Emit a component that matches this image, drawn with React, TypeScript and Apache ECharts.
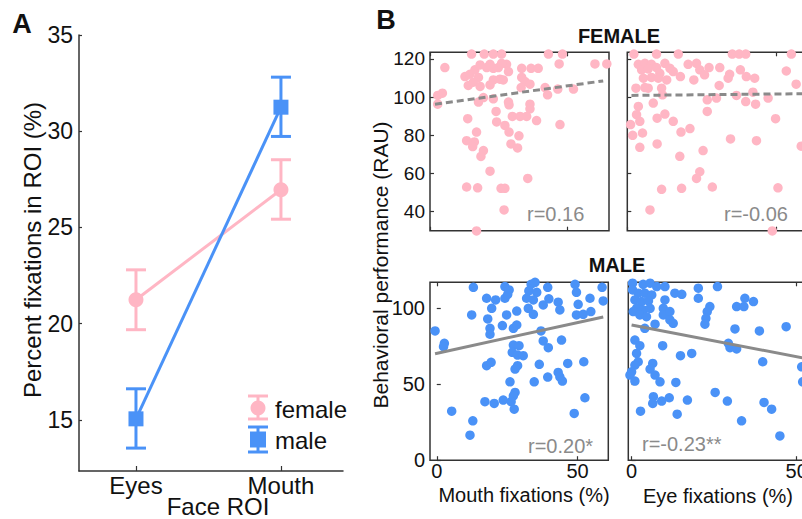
import React, { useEffect, useRef } from "react";
import * as echarts from "echarts";

const PINK = "#FFB6C4";
const BLUE = "#4A92F7";
const GRAY = "#8A8A8A";
const AXIS = "#333333";
const TEXT = "#111111";
const FONT = "'Liberation Sans', Arial, Helvetica, sans-serif";

// ---------- Panel A ----------
const roiCategories = ["Eyes", "Mouth"];
const roiPositions = [1, 2];
const femaleMean = [21.25, 26.96];
const femaleLow = [19.69, 25.43];
const femaleHigh = [22.8, 28.52];
const maleMean = [15.06, 31.25];
const maleLow = [13.54, 29.73];
const maleHigh = [16.62, 32.81];
const panelATicks = [15, 20, 25, 30, 35];

// ---------- Panel B ----------
const femaleTicksY = [40, 60, 80, 100, 120];
const maleTicksY = [0, 50, 100];
const fixTicksX = [0, 50];

const femaleMouth = [
  [15.1, 122.6], [19.7, 122.6], [23.0, 122.6], [26.0, 122.6], [43.0, 122.6], [48.1, 122.6],
  [46.9, 117.4], [59.9, 117.4], [64.2, 117.4], [5.4, 115.5], [12.7, 110.8], [14.5, 112.0],
  [16.3, 114.3], [18.2, 116.9], [20.6, 115.5], [23.0, 115.1], [24.8, 115.5], [27.8, 117.2],
  [28.5, 113.4], [25.4, 109.4], [23.0, 109.0], [17.6, 110.3], [15.7, 107.8], [13.9, 106.1],
  [18.2, 105.6], [21.8, 106.4], [26.6, 109.0], [33.3, 115.1], [36.7, 115.1], [39.3, 115.1],
  [33.3, 110.3], [34.5, 108.2], [36.3, 106.8], [33.1, 105.0], [41.8, 105.0], [42.7, 101.2],
  [46.4, 104.2], [52.1, 104.2], [2.8, 100.9], [4.5, 102.1], [2.8, 96.3], [17.6, 97.4],
  [19.4, 99.8], [23.0, 99.1], [28.5, 97.4], [28.7, 96.0], [36.3, 96.3], [36.3, 93.9],
  [24.0, 92.5], [13.7, 88.7], [24.2, 87.0], [27.2, 85.2], [29.9, 89.9], [32.7, 89.9],
  [35.1, 89.9], [38.7, 87.7], [47.2, 85.6], [28.7, 81.7], [32.3, 79.7], [29.4, 75.5],
  [31.8, 73.4], [16.9, 81.7], [13.3, 77.2], [16.1, 76.5], [15.5, 74.1], [19.4, 72.0],
  [18.5, 68.9], [21.8, 61.2], [13.3, 52.9], [17.3, 52.5], [25.8, 52.2], [27.2, 52.2],
  [35.5, 57.4], [26.9, 40.9], [16.9, 29.9], [26.0, 117.7], [21.8, 117.2]
];

const femaleEye = [
  [2.2, 122.6], [9.8, 122.6], [17.1, 122.6], [35.2, 122.6], [37.5, 122.6], [39.7, 122.6],
  [55.0, 122.6], [3.7, 117.2], [5.9, 117.7], [8.1, 117.2], [4.8, 114.3], [7.0, 114.8],
  [9.8, 115.5], [12.6, 117.7], [14.3, 115.1], [15.4, 113.4], [10.9, 112.5], [8.1, 110.3],
  [10.4, 109.9], [13.2, 109.0], [7.0, 104.7], [2.9, 104.7], [5.9, 105.0], [11.5, 104.7],
  [11.8, 101.2], [17.8, 110.8], [20.4, 117.2], [23.2, 117.7], [24.3, 114.3], [27.4, 115.5],
  [22.3, 109.0], [25.9, 111.7], [31.0, 115.5], [34.3, 112.0], [33.8, 109.9], [37.9, 114.3],
  [39.9, 110.8], [42.7, 109.9], [53.3, 113.7], [56.6, 106.8], [30.8, 106.1], [42.1, 102.6],
  [36.6, 100.9], [26.8, 98.6], [29.9, 99.5], [39.7, 97.7], [43.0, 96.3], [47.2, 99.5],
  [3.7, 95.1], [8.7, 96.9], [26.8, 92.5], [3.1, 90.8], [4.2, 87.3], [1.1, 85.6],
  [10.0, 89.0], [12.6, 91.1], [15.4, 87.3], [21.0, 83.5], [18.0, 81.7], [1.8, 80.0],
  [5.1, 81.2], [4.2, 73.7], [10.0, 75.5], [49.7, 88.7], [34.6, 78.1], [43.3, 77.2],
  [58.3, 74.3], [25.4, 72.0], [17.6, 69.0], [24.3, 60.9], [23.2, 57.4], [11.5, 51.7],
  [18.2, 52.2], [28.5, 52.9], [50.5, 52.5], [7.6, 40.9], [48.6, 29.9], [5.4, 109.9]
];

const maleMouth = [
  [13.0, 113.8], [24.2, 114.3], [25.7, 112.1], [33.5, 115.8], [34.9, 117.1], [32.7, 111.4],
  [35.5, 110.5], [39.4, 113.8], [49.1, 115.8], [49.6, 110.5], [58.7, 113.8], [17.7, 106.6],
  [20.9, 105.5], [24.2, 106.6], [25.2, 109.2], [19.5, 100.0], [31.9, 106.6], [34.3, 105.5],
  [37.8, 102.2], [39.8, 106.2], [43.1, 104.0], [43.7, 98.9], [50.2, 102.6], [54.4, 106.6],
  [59.1, 104.8], [12.4, 95.6], [24.8, 95.6], [28.4, 98.2], [32.5, 100.0], [34.3, 96.0],
  [49.6, 95.6], [52.0, 96.0], [54.7, 97.8], [18.1, 93.0], [18.9, 86.8], [23.3, 88.6],
  [27.2, 86.8], [28.4, 89.0], [18.9, 82.9], [37.0, 85.1], [-0.6, 85.1], [2.7, 76.9],
  [2.4, 74.7], [37.8, 78.5], [39.6, 74.1], [44.3, 79.1], [27.2, 75.8], [29.2, 75.4],
  [26.8, 71.0], [28.7, 69.2], [30.7, 68.8], [17.7, 62.2], [19.3, 64.4], [28.7, 62.2],
  [27.8, 60.0], [36.4, 63.1], [46.5, 63.7], [52.2, 64.8], [26.0, 51.6], [34.6, 51.6],
  [39.4, 54.7], [43.1, 57.8], [43.7, 54.9], [44.6, 52.1], [27.8, 44.6], [27.2, 42.4],
  [17.1, 38.5], [20.4, 37.4], [23.6, 39.6], [26.4, 38.5], [27.5, 33.6], [52.6, 41.1],
  [5.3, 32.3], [12.8, 25.9], [11.8, 16.5], [48.8, 30.8]
];

const maleEye = [
  [0.3, 116.5], [0.3, 112.1], [3.5, 115.8], [5.6, 116.5], [7.6, 114.3], [10.1, 114.3],
  [2.0, 109.9], [4.0, 109.9], [6.1, 108.8], [1.0, 105.5], [3.0, 104.4], [5.1, 104.8],
  [1.5, 100.0], [3.5, 98.9], [5.6, 100.0], [0.5, 97.8], [2.5, 95.6], [4.5, 94.5],
  [7.1, 89.5], [4.0, 86.8], [10.1, 105.5], [9.6, 100.0], [9.6, 95.6], [11.6, 97.8],
  [13.1, 109.9], [15.2, 109.2], [11.6, 92.3], [12.6, 90.1], [20.2, 113.2], [20.2, 106.6],
  [26.0, 114.3], [23.7, 101.1], [22.9, 97.8], [22.5, 93.4], [22.2, 89.5], [31.8, 101.1],
  [34.3, 106.6], [34.0, 101.1], [36.9, 104.4], [31.3, 86.4], [38.7, 85.1], [46.8, 87.9],
  [29.3, 76.9], [29.8, 74.1], [31.8, 73.2], [9.4, 75.4], [14.8, 68.8], [18.2, 70.3],
  [1.0, 79.1], [2.5, 75.4], [1.5, 70.3], [2.0, 64.8], [1.0, 62.6], [0.0, 58.2],
  [-0.5, 56.0], [1.0, 52.1], [6.4, 63.7], [5.6, 60.0], [7.1, 56.0], [8.6, 51.6],
  [13.4, 51.2], [39.7, 64.8], [51.5, 61.5], [51.8, 51.6], [6.6, 41.8], [6.4, 37.4],
  [9.1, 38.9], [11.4, 41.1], [16.9, 39.6], [25.3, 44.6], [29.0, 38.9], [2.7, 32.3],
  [13.8, 30.3], [40.1, 38.0], [42.4, 33.6], [33.3, 25.9], [44.9, 16.0]
];

const femaleMouthFit = [[1.8, 96.3], [62.9, 108.5]];
const femaleEyeFit = [[1.4, 100.9], [60.0, 101.8]];
const maleMouthFit = [[-0.6, 70.1], [59.1, 94.3]];
const maleEyeFit = [[0.0, 89.0], [53.2, 66.8]];

const rLabels = ["r=0.16", "r=-0.06", "r=0.20*", "r=-0.23**"];

function errorBarSeries(color: string, low: number[], high: number[], z: number) {
  const data = roiPositions.map((p, i) => [p, low[i], high[i]]);
  return {
    type: "custom",
    xAxisIndex: 0,
    yAxisIndex: 0,
    z,
    silent: true,
    encode: { x: 0, y: [1, 2] },
    data,
    renderItem: (_params: any, api: any) => {
      const x = api.value(0);
      const a = api.coord([x, api.value(1)]);
      const b = api.coord([x, api.value(2)]);
      const half = 10;
      const st = { stroke: color, lineWidth: 3 };
      return {
        type: "group",
        children: [
          { type: "line", shape: { x1: a[0], y1: a[1], x2: b[0], y2: b[1] }, style: st },
          { type: "line", shape: { x1: a[0] - half, y1: a[1], x2: a[0] + half, y2: a[1] }, style: st },
          { type: "line", shape: { x1: b[0] - half, y1: b[1], x2: b[0] + half, y2: b[1] }, style: st },
        ],
      };
    },
  };
}

function tickStyle() {
  return { color: AXIS, width: 1.2 };
}

export default function App() {
  const ref = useRef<HTMLDivElement>(null);

  useEffect(() => {
    document.body.style.margin = "0";
    document.body.style.overflow = "hidden";
    if (!ref.current) return;
    const chart = echarts.init(ref.current, null, { renderer: "svg" });

    const bGrids = [
      { left: 430, top: 52.3, width: 179, height: 178.4 },
      { left: 627.3, top: 52.3, width: 179, height: 178.4 },
      { left: 430, top: 282.3, width: 178.3, height: 177.9 },
      { left: 628.3, top: 282.3, width: 179, height: 177.9 },
    ];
    const bX = [
      { min: 0, max: 65, labels: false },
      { min: 0, max: 60, labels: false },
      { min: -2.4, max: 60.9, labels: true },
      { min: -1, max: 53.2, labels: true },
    ];
    const bY = [
      { min: 30, max: 123.5, ticks: femaleTicksY, labels: true, fs: 19 },
      { min: 30, max: 123.5, ticks: femaleTicksY, labels: false, fs: 19 },
      { min: 0, max: 117.1, ticks: maleTicksY, labels: true, fs: 20 },
      { min: 0, max: 117.1, ticks: maleTicksY, labels: false, fs: 20 },
    ];

    const grids: any[] = [
      { left: 79, top: 35, width: 264, height: 436, outerBoundsMode: "none", containLabel: false },
      ...bGrids.map((g) => ({
        ...g,
        show: true,
        borderColor: AXIS,
        borderWidth: 1.5,
        backgroundColor: "transparent",
        outerBoundsMode: "none",
        containLabel: false,
      })),
    ];

    const xAxes: any[] = [
      {
        type: "value",
        gridIndex: 0,
        min: 0.607,
        max: 2.428,
        axisLine: { show: true, lineStyle: { color: AXIS, width: 1.5 } },
        axisTick: { show: true, inside: true, length: 5, customValues: roiPositions, lineStyle: tickStyle() },
        axisLabel: {
          customValues: roiPositions,
          formatter: (v: number) => roiCategories[roiPositions.indexOf(Math.round(v))] || "",
          fontSize: 24,
          fontFamily: FONT,
          color: TEXT,
          margin: 2,
        },
        splitLine: { show: false },
      },
    ];
    const yAxes: any[] = [
      {
        type: "value",
        gridIndex: 0,
        min: 12.35,
        max: 35,
        axisLine: { show: true, lineStyle: { color: AXIS, width: 1.5 } },
        axisTick: { show: true, inside: true, length: 3, customValues: panelATicks, lineStyle: tickStyle() },
        axisLabel: { customValues: panelATicks, fontSize: 23, fontFamily: FONT, color: TEXT, margin: 6 },
        splitLine: { show: false },
      },
    ];

    bGrids.forEach((_g, i) => {
      const gi = i + 1;
      xAxes.push({
        type: "value",
        gridIndex: gi,
        position: "bottom",
        min: bX[i].min,
        max: bX[i].max,
        axisLine: { show: false },
        axisTick: { show: true, inside: true, length: 4, customValues: fixTicksX, lineStyle: tickStyle() },
        axisLabel: {
          show: bX[i].labels,
          customValues: fixTicksX,
          fontSize: 20,
          fontFamily: FONT,
          color: TEXT,
          margin: 1,
        },
        splitLine: { show: false },
      });
      xAxes.push({
        type: "value",
        gridIndex: gi,
        position: "top",
        min: bX[i].min,
        max: bX[i].max,
        axisLine: { show: false },
        axisTick: { show: true, inside: true, length: 4, customValues: fixTicksX, lineStyle: tickStyle() },
        axisLabel: { show: false },
        splitLine: { show: false },
      });
      yAxes.push({
        type: "value",
        gridIndex: gi,
        min: bY[i].min,
        max: bY[i].max,
        axisLine: { show: false },
        axisTick: { show: true, inside: true, length: 4, customValues: bY[i].ticks, lineStyle: tickStyle() },
        axisLabel: {
          show: bY[i].labels,
          customValues: bY[i].ticks,
          fontSize: bY[i].fs,
          fontFamily: FONT,
          color: TEXT,
          margin: 5,
        },
        splitLine: { show: false },
      });
    });

    const scatterSets = [femaleMouth, femaleEye, maleMouth, maleEye];
    const fitSets = [femaleMouthFit, femaleEyeFit, maleMouthFit, maleEyeFit];
    const colors = [PINK, PINK, BLUE, BLUE];

    const series: any[] = [
      errorBarSeries(PINK, femaleLow, femaleHigh, 2),
      {
        type: "line",
        xAxisIndex: 0,
        yAxisIndex: 0,
        z: 3,
        data: roiPositions.map((p, i) => [p, femaleMean[i]]),
        symbol: "circle",
        symbolSize: 15,
        lineStyle: { color: PINK, width: 3 },
        itemStyle: { color: PINK },
      },
      errorBarSeries(BLUE, maleLow, maleHigh, 4),
      {
        type: "line",
        xAxisIndex: 0,
        yAxisIndex: 0,
        z: 5,
        data: roiPositions.map((p, i) => [p, maleMean[i]]),
        symbol: "rect",
        symbolSize: 15,
        lineStyle: { color: BLUE, width: 3 },
        itemStyle: { color: BLUE },
      },
    ];

    scatterSets.forEach((pts, i) => {
      series.push({
        type: "scatter",
        xAxisIndex: 1 + i * 2,
        yAxisIndex: 1 + i,
        data: pts,
        symbolSize: 9.5,
        itemStyle: { color: colors[i], opacity: 1 },
        clip: false,
        z: 2,
        silent: true,
      });
      series.push({
        type: "line",
        xAxisIndex: 1 + i * 2,
        yAxisIndex: 1 + i,
        data: fitSets[i],
        symbol: "none",
        clip: false,
        z: 3,
        silent: true,
        lineStyle: { color: GRAY, width: 3, type: i < 2 ? [7, 4] : "solid" },
      });
    });

    const txt = (x: number, y: number, text: string, opts: any = {}) => ({
      type: "text",
      x,
      y,
      rotation: opts.rotation || 0,
      silent: true,
      style: {
        text,
        fontSize: opts.fontSize || 20,
        fontFamily: FONT,
        fontWeight: opts.bold ? "bold" : "normal",
        fill: opts.color || TEXT,
        textAlign: opts.align || "center",
        textVerticalAlign: "middle",
      },
    });

    const legend = (cy1: number, cy2: number, color: string, marker: any) => ({
      type: "group",
      silent: true,
      children: [
        { type: "line", shape: { x1: 258, y1: cy1, x2: 258, y2: cy2 }, style: { stroke: color, lineWidth: 3 } },
        { type: "line", shape: { x1: 248, y1: cy1, x2: 268, y2: cy1 }, style: { stroke: color, lineWidth: 3 } },
        { type: "line", shape: { x1: 248, y1: cy2, x2: 268, y2: cy2 }, style: { stroke: color, lineWidth: 3 } },
        marker,
      ],
    });

    const graphic: any[] = [
      txt(22, 24, "A", { fontSize: 27, bold: true }),
      txt(386, 20, "B", { fontSize: 27, bold: true }),
      txt(32, 250, "Percent fixations in ROI (%)", { fontSize: 24, rotation: Math.PI / 2 }),
      txt(218, 506, "Face ROI", { fontSize: 24 }),
      txt(380, 265, "Behavioral performance (RAU)", { fontSize: 21, rotation: Math.PI / 2 }),
      txt(619, 36, "FEMALE", { fontSize: 20, bold: true }),
      txt(617, 265, "MALE", { fontSize: 20, bold: true }),
      txt(524, 495, "Mouth fixations (%)", { fontSize: 20 }),
      txt(718, 496, "Eye fixations (%)", { fontSize: 20 }),
      txt(527, 214, rLabels[0], { fontSize: 20, align: "left", color: GRAY }),
      txt(724, 214, rLabels[1], { fontSize: 20, align: "left", color: GRAY }),
      txt(528, 446, rLabels[2], { fontSize: 20, align: "left", color: GRAY }),
      txt(642, 444, rLabels[3], { fontSize: 20, align: "left", color: GRAY }),
      legend(396, 419, PINK, { type: "circle", shape: { cx: 258, cy: 408, r: 7.5 }, style: { fill: PINK } }),
      legend(427, 452, BLUE, { type: "rect", shape: { x: 250, y: 431.5, width: 16, height: 16 }, style: { fill: BLUE } }),
      txt(275, 409, "female", { fontSize: 24, align: "left" }),
      txt(275, 440, "male", { fontSize: 24, align: "left" }),
    ];

    chart.setOption({
      animation: false,
      backgroundColor: "#ffffff",
      textStyle: { fontFamily: FONT },
      grid: grids,
      xAxis: xAxes,
      yAxis: yAxes,
      series,
      graphic,
    });

    return () => chart.dispose();
  }, []);

  return <div ref={ref} style={{ width: 802, height: 519 }} />;
}
